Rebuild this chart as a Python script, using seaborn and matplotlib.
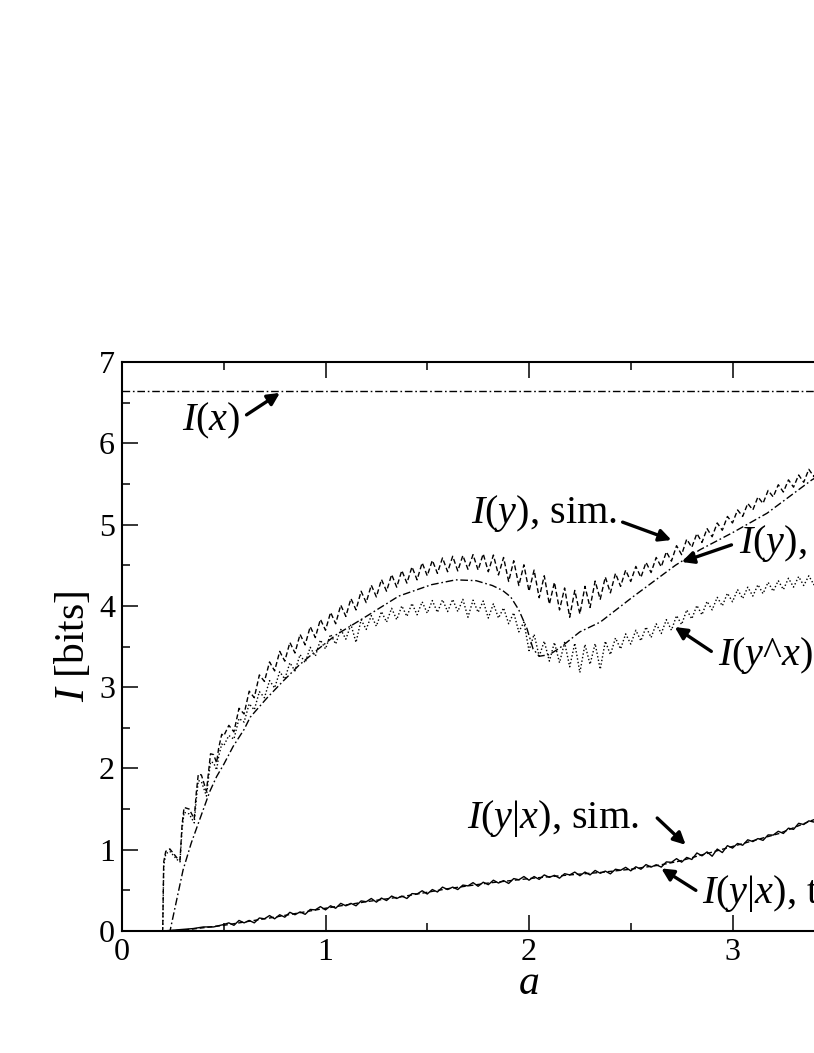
import numpy as np
import matplotlib
matplotlib.use("Agg")
import matplotlib.pyplot as plt
import seaborn as sns

# shared sampling grid for the simulated (noisy) curves, a = 0.525 ... 3.5
a_grid = [0.525, 0.55, 0.575, 0.60, 0.625, 0.65, 0.675, 0.70, 0.725, 0.75,
          0.775, 0.80, 0.825, 0.85, 0.875, 0.90, 0.925, 0.95, 0.975, 1.00,
          1.025, 1.05, 1.075, 1.10, 1.125, 1.15, 1.175, 1.20, 1.225, 1.25,
          1.275, 1.30, 1.325, 1.35, 1.375, 1.40, 1.425, 1.45, 1.475, 1.50,
          1.525, 1.55, 1.575, 1.60, 1.625, 1.65, 1.675, 1.70, 1.725, 1.75,
          1.775, 1.80, 1.825, 1.85, 1.875, 1.90, 1.925, 1.95, 1.975, 2.00,
          2.025, 2.05, 2.075, 2.10, 2.125, 2.15, 2.175, 2.20, 2.225, 2.25,
          2.275, 2.30, 2.325, 2.35, 2.375, 2.40, 2.425, 2.45, 2.475, 2.50,
          2.525, 2.55, 2.575, 2.60, 2.625, 2.65, 2.675, 2.70, 2.725, 2.75,
          2.775, 2.80, 2.825, 2.85, 2.875, 2.90, 2.925, 2.95, 2.975, 3.00,
          3.025, 3.05, 3.075, 3.10, 3.125, 3.15, 3.175, 3.20, 3.225, 3.25,
          3.275, 3.30, 3.325, 3.35, 3.375, 3.40, 3.425, 3.45, 3.475, 3.50]

# I(y), sim.  (dashed, saw-tooth)
iy_sim_a0 = [0.0, 0.20, 0.205, 0.215, 0.235, 0.27, 0.285, 0.295, 0.305, 0.33, 0.355,
             0.365, 0.375, 0.39, 0.415, 0.425, 0.435, 0.45, 0.465, 0.475, 0.49, 0.50]
iy_sim_v0 = [0.0, 0.0, 0.85, 0.98, 1.01, 0.90, 0.87, 1.30, 1.52, 1.50, 1.38,
             1.70, 1.93, 1.92, 1.72, 1.95, 2.18, 2.17, 2.07, 2.25, 2.42, 2.40]
iy_sim_v = [2.53, 2.45, 2.74, 2.67, 2.95, 2.87, 3.15, 3.07, 3.31, 3.20,
            3.44, 3.32, 3.55, 3.42, 3.65, 3.52, 3.745, 3.61, 3.835, 3.70,
            3.92, 3.78, 4.01, 3.87, 4.09, 3.95, 4.18, 4.04, 4.255, 4.11,
            4.325, 4.18, 4.385, 4.23, 4.435, 4.28, 4.48, 4.32, 4.53, 4.37,
            4.56, 4.40, 4.59, 4.42, 4.61, 4.43, 4.62, 4.45, 4.63, 4.44,
            4.64, 4.42, 4.625, 4.38, 4.595, 4.30, 4.555, 4.25, 4.505, 4.18,
            4.44, 4.10, 4.37, 4.02, 4.29, 3.95, 4.22, 3.86, 4.19, 3.90,
            4.24, 3.98, 4.305, 4.08, 4.355, 4.16, 4.40, 4.24, 4.44, 4.30,
            4.485, 4.35, 4.535, 4.41, 4.595, 4.48, 4.665, 4.55, 4.74, 4.63,
            4.82, 4.72, 4.89, 4.78, 4.95, 4.85, 5.02, 4.93, 5.10, 5.02,
            5.18, 5.10, 5.26, 5.18, 5.34, 5.26, 5.42, 5.34, 5.49, 5.40,
            5.55, 5.46, 5.61, 5.52, 5.68, 5.59, 5.74, 5.65, 5.79, 5.70]

# I(y^x) (dotted)
iyx_a0 = [0.0, 0.20, 0.205, 0.215, 0.235, 0.27, 0.285, 0.295, 0.305, 0.33, 0.355,
          0.365, 0.375, 0.39, 0.415, 0.425, 0.435, 0.45, 0.465, 0.475, 0.49, 0.50]
iyx_v0 = [0.0, 0.0, 0.80, 0.95, 0.98, 0.88, 0.85, 1.25, 1.46, 1.44, 1.33,
          1.62, 1.85, 1.84, 1.66, 1.88, 2.08, 2.07, 1.98, 2.15, 2.30, 2.28]
iyx_v = [2.405, 2.36, 2.615, 2.57, 2.795, 2.72, 2.945, 2.87, 3.08, 2.99,
         3.19, 3.10, 3.30, 3.20, 3.40, 3.30, 3.49, 3.38, 3.58, 3.47,
         3.65, 3.53, 3.71, 3.59, 3.77, 3.55, 3.83, 3.71, 3.88, 3.75,
         3.93, 3.80, 3.97, 3.83, 4.00, 3.87, 4.03, 3.89, 4.05, 3.91,
         4.065, 3.92, 4.075, 3.93, 4.08, 3.93, 4.08, 3.86, 4.07, 3.92,
         4.06, 3.85, 4.025, 3.85, 3.975, 3.78, 3.915, 3.68, 3.80, 3.45,
         3.65, 3.38, 3.565, 3.32, 3.55, 3.30, 3.55, 3.25, 3.54, 3.18,
         3.525, 3.28, 3.535, 3.22, 3.565, 3.40, 3.605, 3.47, 3.655, 3.53,
         3.70, 3.57, 3.74, 3.61, 3.78, 3.66, 3.83, 3.70, 3.88, 3.77,
         3.95, 3.84, 4.005, 3.89, 4.055, 3.95, 4.105, 4.00, 4.155, 4.05,
         4.20, 4.09, 4.23, 4.12, 4.26, 4.15, 4.29, 4.18, 4.31, 4.20,
         4.34, 4.23, 4.36, 4.25, 4.37, 4.26, 4.39, 4.28, 4.41, 4.30]

# I(y|x), sim. (solid, noisy)
iygx_sim_a0 = [0.0, 0.20, 0.25, 0.30, 0.35, 0.40, 0.45, 0.50]
iygx_sim_v0 = [0.0, 0.0, 0.01, 0.02, 0.03, 0.05, 0.05, 0.08]
iygx_sim_v = [0.10, 0.07, 0.13, 0.10, 0.13, 0.10, 0.16, 0.15, 0.19, 0.15,
              0.20, 0.17, 0.23, 0.20, 0.235, 0.205, 0.265, 0.26, 0.30, 0.26,
              0.31, 0.28, 0.34, 0.31, 0.34, 0.31, 0.37, 0.36, 0.40, 0.355,
              0.405, 0.375, 0.43, 0.40, 0.43, 0.40, 0.46, 0.455, 0.495, 0.455,
              0.51, 0.48, 0.54, 0.51, 0.54, 0.51, 0.565, 0.555, 0.595, 0.55,
              0.60, 0.57, 0.625, 0.59, 0.62, 0.585, 0.645, 0.63, 0.67, 0.625,
              0.67, 0.635, 0.69, 0.66, 0.685, 0.65, 0.705, 0.69, 0.725, 0.68,
              0.725, 0.69, 0.745, 0.71, 0.737, 0.703, 0.76, 0.747, 0.783, 0.74,
              0.79, 0.76, 0.817, 0.786, 0.815, 0.786, 0.85, 0.845, 0.89, 0.847,
              0.905, 0.88, 0.96, 0.925, 0.973, 0.92, 1.008, 0.965, 1.05, 1.02,
              1.077, 1.055, 1.122, 1.10, 1.137, 1.115, 1.182, 1.18, 1.227, 1.20,
              1.265, 1.25, 1.325, 1.31, 1.355, 1.34, 1.42, 1.43, 1.49, 1.47]

# I(y), theory (dash-dot, smooth)
iy_th_a = [0.0, 0.236, 0.30, 0.34, 0.383, 0.432, 0.465, 0.50, 0.546, 0.60, 0.63,
           0.71, 0.79, 0.87, 0.96, 1.05, 1.20, 1.36, 1.52, 1.64, 1.74, 1.82, 1.87,
           1.91, 1.95, 1.99, 2.02, 2.05, 2.10, 2.15, 2.25, 2.35, 2.51, 2.72, 2.84,
           3.00, 3.17, 3.39, 3.60]
iy_th_v = [0.0, 0.0, 0.75, 1.08, 1.38, 1.72, 1.90, 2.05, 2.27, 2.48, 2.63,
           2.86, 3.07, 3.27, 3.46, 3.64, 3.87, 4.12, 4.26, 4.32, 4.31, 4.25, 4.19,
           4.11, 3.95, 3.72, 3.47, 3.38, 3.40, 3.48, 3.68, 3.80, 4.11, 4.50, 4.69,
           4.90, 5.14, 5.55, 5.85]

# I(y|x), theory (dashed, smooth)
iygx_th_a = [0.0, 0.20, 0.30, 0.50, 0.75, 1.0, 1.2, 1.37, 1.6, 1.8, 2.02, 2.2,
             2.35, 2.5, 2.64, 2.74, 2.84, 2.9, 3.0, 3.1, 3.23, 3.39, 3.6]
iygx_th_v = [0.0, 0.0, 0.01, 0.07, 0.17, 0.28, 0.36, 0.42, 0.52, 0.59, 0.65, 0.69,
             0.72, 0.76, 0.81, 0.86, 0.93, 0.97, 1.04, 1.11, 1.20, 1.36, 1.55]

# I(x), constant
ix_value = 6.64

sns.set_style("ticks")
plt.rcParams["font.family"] = ["Liberation Serif", "DejaVu Serif"]
plt.rcParams["mathtext.fontset"] = "custom"
plt.rcParams["mathtext.rm"] = "Liberation Serif"
plt.rcParams["mathtext.it"] = "Liberation Serif:italic"
for key in ["text.color", "axes.labelcolor", "xtick.color", "ytick.color",
            "axes.edgecolor"]:
    plt.rcParams[key] = "black"

fig = plt.figure(figsize=(8.14, 10.53), dpi=100)
ax = fig.add_axes([122 / 814, 122 / 1053, 1.0, 569 / 1053])

lw = 1.0
ax.axhline(ix_value, color="k", lw=lw, ls=(0, (5.5, 2.0, 1.2, 2.0)))
sns.lineplot(x=iy_sim_a0 + a_grid, y=iy_sim_v0 + iy_sim_v, ax=ax, sort=False,
             estimator=None, color="k", lw=lw, ls=(0, (3.6, 2.0)))
sns.lineplot(x=iy_th_a, y=iy_th_v, ax=ax, sort=False, estimator=None,
             color="k", lw=lw, ls=(0, (5.5, 2.0, 1.2, 2.0)))
sns.lineplot(x=iyx_a0 + a_grid, y=iyx_v0 + iyx_v, ax=ax, sort=False,
             estimator=None, color="k", lw=lw, ls=(0, (1.0, 1.6)))
sns.lineplot(x=iygx_sim_a0 + a_grid, y=iygx_sim_v0 + iygx_sim_v, ax=ax,
             sort=False, estimator=None, color="k", lw=lw, ls="-")
sns.lineplot(x=iygx_th_a, y=iygx_th_v, ax=ax, sort=False, estimator=None,
             color="k", lw=lw, ls=(0, (3.6, 2.0)))

ax.set_xlim(0, 4)
ax.set_ylim(0, 7)
ax.set_xticks([0, 1, 2, 3, 4])
ax.set_xticks([0.5, 1.5, 2.5, 3.5], minor=True)
ax.set_yticks(range(0, 8))
ax.set_yticks([0.5, 1.5, 2.5, 3.5, 4.5, 5.5, 6.5], minor=True)
ax.tick_params(which="both", direction="in", top=True, right=True,
               labelsize=23, width=1.1, pad=5, colors="black")
ax.tick_params(which="major", length=11.5)
ax.tick_params(which="minor", length=5.8)
for sp in ax.spines.values():
    sp.set_linewidth(1.5)
    sp.set_color("black")
    sp.set_visible(True)

ax.set_xlabel(r"$a$", fontsize=30, labelpad=-2)
ax.set_ylabel(r"$I$ [bits]", fontsize=30, labelpad=4)

# annotations: text + arrow
arrow = dict(arrowstyle="-|>", color="k", lw=2.4, mutation_scale=18,
             shrinkA=0, shrinkB=0)
txt = dict(fontsize=29, va="baseline")

ax.text(0.58, 6.16, r"$I(x)$", ha="right", **txt)
ax.annotate("", xy=(0.776, 6.62), xytext=(0.612, 6.35), arrowprops=arrow)

ax.text(2.43, 5.02, r"$I(y)$, sim.", ha="right", **txt)
ax.annotate("", xy=(2.70, 4.81), xytext=(2.46, 5.03), arrowprops=arrow)

ax.text(3.03, 4.65, r"$I(y)$, theory", ha="left", **txt)
ax.annotate("", xy=(2.75, 4.54), xytext=(2.995, 4.75), arrowprops=arrow)

ax.text(2.93, 3.27, r"$I(y$^$x)$", ha="left", **txt)
ax.annotate("", xy=(2.716, 3.74), xytext=(2.896, 3.44), arrowprops=arrow)

ax.text(2.54, 1.27, r"$I(y|x)$, sim.", ha="right", **txt)
ax.annotate("", xy=(2.77, 1.06), xytext=(2.63, 1.39), arrowprops=arrow)

ax.text(2.85, 0.34, r"$I(y|x)$, theory", ha="left", **txt)
ax.annotate("", xy=(2.65, 0.77), xytext=(2.82, 0.50), arrowprops=arrow)

fig.savefig("out.png", dpi=100)
